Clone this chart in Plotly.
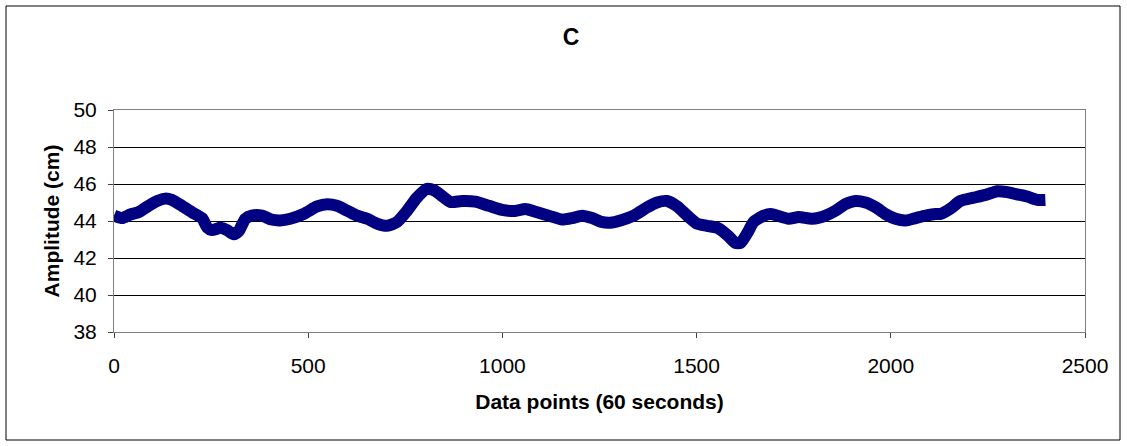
import plotly.graph_objects as go

title_text = "C"
x_title = "Data points (60 seconds)"
y_title = "Amplitude (cm)"

data_points = [0, 21, 42, 63, 89, 111, 132, 149, 175, 201, 227, 240, 252, 274, 291, 308, 321,
               338, 355, 381, 405, 428, 454, 488, 523, 549, 574, 600, 626, 652, 677, 703, 729,
               755, 780, 806, 825, 845, 866, 896, 930, 965, 999, 1033, 1059, 1085, 1119, 1154,
               1180, 1205, 1231, 1255, 1278, 1304, 1338, 1373, 1398, 1424, 1450, 1476, 1501,
               1527, 1553, 1579, 1600, 1613, 1630, 1647, 1673, 1690, 1703, 1737, 1763, 1798,
               1832, 1858, 1883, 1909, 1935, 1961, 1986, 2012, 2038, 2064, 2090, 2115, 2128,
               2154, 2179, 2214, 2248, 2274, 2300, 2325, 2351, 2377, 2398]
amplitude = [44.30, 44.16, 44.35, 44.47, 44.82, 45.08, 45.21, 45.14, 44.82, 44.47, 44.15, 43.65,
             43.51, 43.63, 43.51, 43.28, 43.45, 44.12, 44.29, 44.29, 44.08, 44.03, 44.12, 44.38,
             44.79, 44.91, 44.82, 44.56, 44.29, 44.12, 43.86, 43.74, 43.95, 44.56, 45.26, 45.74,
             45.65, 45.35, 45.03, 45.08, 45.05, 44.82, 44.60, 44.54, 44.65, 44.50, 44.29, 44.08,
             44.16, 44.29, 44.16, 43.95, 43.91, 44.03, 44.29, 44.74, 45.00, 45.08, 44.79, 44.29,
             43.86, 43.74, 43.63, 43.24, 42.81, 42.81, 43.33, 43.95, 44.29, 44.38, 44.32, 44.12,
             44.21, 44.12, 44.29, 44.56, 44.91, 45.08, 45.00, 44.74, 44.38, 44.12, 44.03, 44.16,
             44.29, 44.38, 44.38, 44.68, 45.08, 45.26, 45.44, 45.61, 45.56, 45.44, 45.32, 45.14,
             45.14]

x_ticks = [0, 500, 1000, 1500, 2000, 2500]
y_ticks = [38, 40, 42, 44, 46, 48, 50]

W, H = 1127, 446
L, R, T, B = 114, 42, 110, 114
pw, ph = W - L - R, H - T - B

fig = go.Figure()
fig.add_trace(go.Scatter(
    x=data_points, y=amplitude, mode="lines",
    line=dict(color="#000080", width=12, shape="spline", smoothing=0.6),
    showlegend=False, hoverinfo="skip",
))

font_family = "Liberation Sans, Arial, sans-serif"

fig.update_layout(
    width=W, height=H,
    margin=dict(l=L, r=R, t=T, b=B),
    paper_bgcolor="white", plot_bgcolor="white",
    font=dict(family=font_family, color="black", size=21),
    title=dict(text="<b>" + title_text + "</b>", x=(571 - L) / pw, xref="paper",
               xanchor="center", y=1 - 37 / H, yanchor="middle",
               font=dict(size=23, family=font_family)),
    xaxis=dict(
        range=[0, 2500], tickvals=x_ticks, ticktext=[str(v) for v in x_ticks],
        showgrid=False, zeroline=False,
        showline=True, linecolor="#808080", linewidth=1, mirror=True,
        ticks="outside", ticklen=5, tickcolor="#404040",
        ticklabelstandoff=10,
        tickfont=dict(size=21),
        title=dict(text="<b>" + x_title + "</b>", font=dict(size=21), standoff=18),
    ),
    yaxis=dict(
        range=[38, 50], tickvals=y_ticks, ticktext=[str(v) for v in y_ticks],
        showgrid=True, gridcolor="black", gridwidth=1, zeroline=False,
        showline=True, linecolor="#808080", linewidth=1, mirror=True,
        ticks="outside", ticklen=5, tickcolor="#404040",
        ticklabelstandoff=7,
        tickfont=dict(size=21),
        title=dict(text="<b>" + y_title + "</b>", font=dict(size=21), standoff=8),
    ),
    shapes=[dict(
        type="rect", xref="paper", yref="paper",
        x0=(6 - L) / pw, x1=(1120 - L) / pw,
        y0=(H - B - 440) / ph, y1=(H - B - 6) / ph,
        line=dict(color="black", width=1), fillcolor="rgba(0,0,0,0)", layer="below",
    )],
)

fig.write_html("out.html")
